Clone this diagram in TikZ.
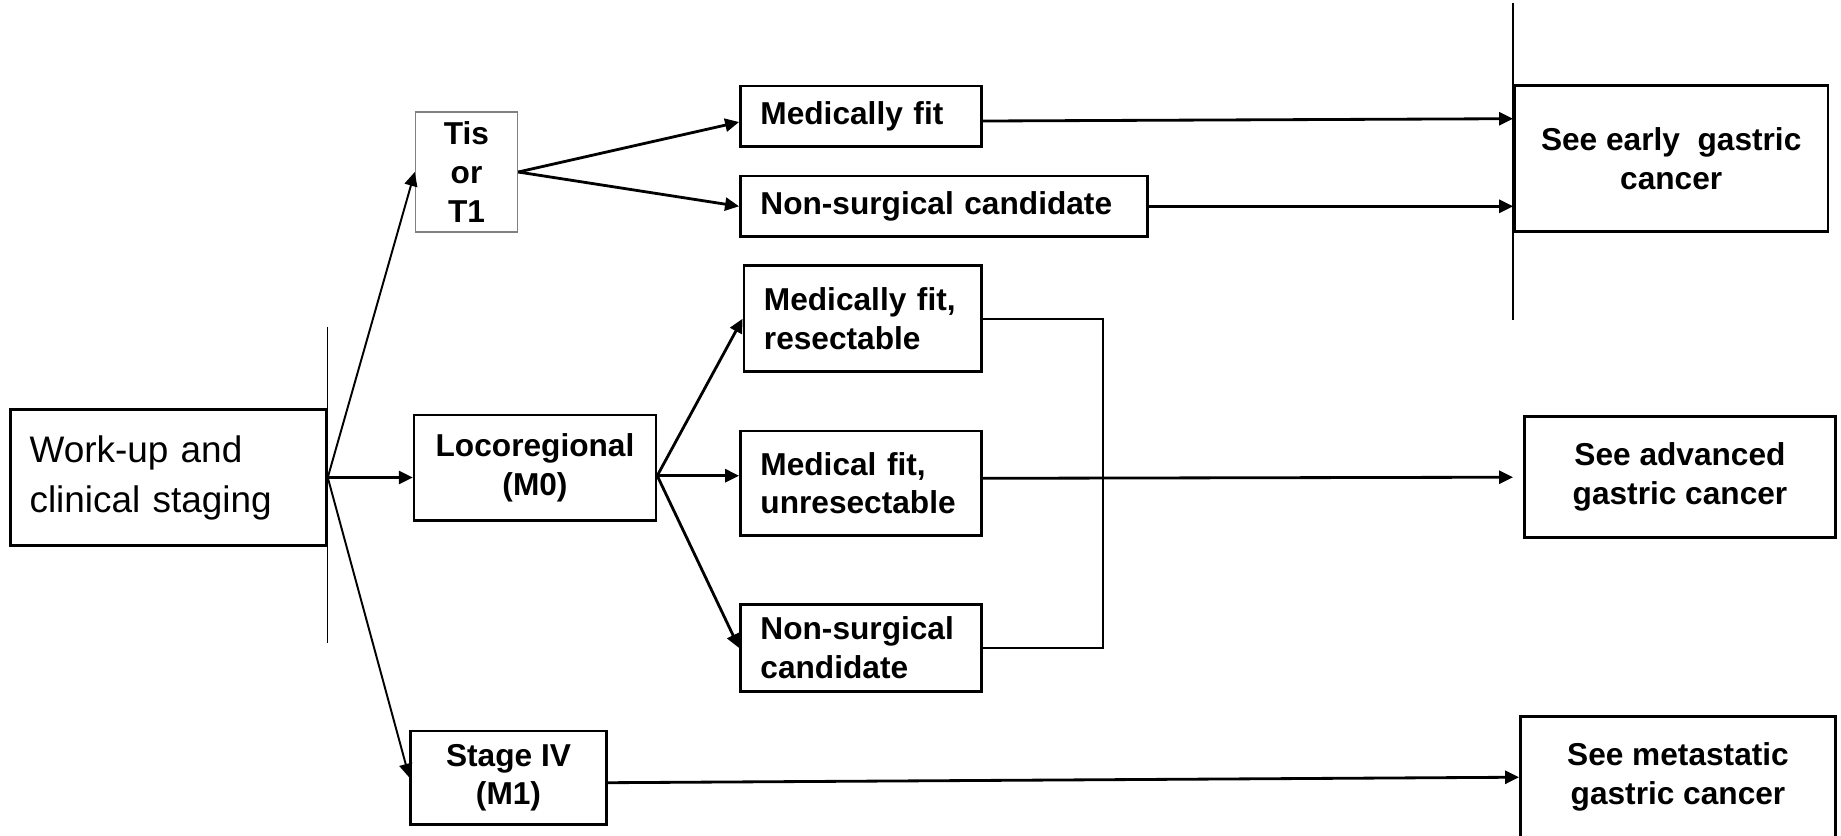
\documentclass[tikz,border=0pt]{standalone}
\usepackage{fontspec}
\setmainfont{Liberation Sans}
\usetikzlibrary{arrows.meta}

\begin{document}
\begin{tikzpicture}[x=0.01cm, y=-0.01cm, thick,
    box/.style = {draw, line width=0.75pt, inner sep=0pt, align=center, font=\fontsize{9}{11}\selectfont\bfseries},
    lbox/.style = {box, align=left, inner xsep=0.2cm},
    arr/.style = {-{Triangle[length=0.14cm, width=0.13cm]}, line width=0.8pt},
    bar/.style = {line width=0.4pt}]
        \useasboundingbox (0,0) rectangle (1841,835);
        \node[box, font=\fontsize{10.5}{14.2}\selectfont, align=left, inner xsep=0.19cm, text width=2.777cm, minimum height=1.364cm] (1) at (168.5,477.5) {Work-up and\\clinical staging};
        \node[box, draw=gray, line width=0.4pt, minimum width=1.02cm, minimum height=1.2cm] (2) at (466.5,172) {Tis\\or\\T1};
        \node[box, minimum width=2.417cm, minimum height=1.053cm] (3) at (535,467.7) {Locoregional\\(M0)};
        \node[box, minimum width=1.954cm, minimum height=0.933cm] (4) at (508.5,777.7) {Stage IV\\(M1)};
        \node[lbox, text width=2.01cm, minimum height=0.603cm] (5) at (861,116) {Medically fit};
        \node[lbox, text width=3.67cm, minimum height=0.607cm] (6) at (944,206.3) {Non-surgical candidate};
        \node[lbox, text width=1.976cm, minimum height=1.06cm] (7) at (862.8,318.7) {Medically fit,\\resectable};
        \node[lbox, text width=2.01cm, minimum height=1.047cm] (8) at (861,483.3) {Medical fit,\\unresectable};
        \node[lbox, text width=2.01cm, minimum height=0.874cm] (9) at (861,648) {Non-surgical\\candidate};
        \node[box, minimum width=3.134cm, minimum height=1.46cm] (10) at (1671.2,158.7) {See early~ gastric\\cancer};
        \node[box, minimum width=3.11cm, minimum height=1.21cm] (11) at (1680,477.2) {See advanced\\gastric cancer};
        \node[box, minimum width=3.151cm, minimum height=1.21cm] (12) at (1678,777.2) {See metastatic\\gastric cancer};
        \coordinate (13) at ([yshift=-0.08cm]3.east);
        \draw[bar] ([yshift=0.813cm]1.north east) -- ([yshift=-0.963cm]1.south east);
        \draw[bar] ([yshift=0.81cm]10.north west) -- ([yshift=-0.866cm]10.south west);
        \draw[arr, line width=0.55pt] (1.east) -- (2.west);
        \draw[arr] (1.east) -- (1.east -| 3.west);
        \draw[arr, line width=0.55pt] (1.east) -- (4.west);
        \draw[arr] (2.east) -- ([yshift=-0.06cm]5.west);
        \draw[arr] (2.east) -- (6.west);
        \draw[arr] ([yshift=-0.05cm]5.east) -- ([yshift=0.4cm]10.west);
        \draw[arr] (6.east) -- (6.east -| 10.west);
        \draw[arr] (13) -- (7.west);
        \draw[arr] (13) -- (13 -| 8.west);
        \draw[arr] (13) -- (9.west);
        \draw[bar, line width=0.6pt] (7.east) -- ++(120,0) |- (9.east);
        \draw[arr] ([yshift=0.05cm]8.east) -- ([xshift=-0.1cm]11.west);
        \draw[arr] ([yshift=-0.05cm]4.east) -- (12.west);
    \end{tikzpicture}
\end{document}
